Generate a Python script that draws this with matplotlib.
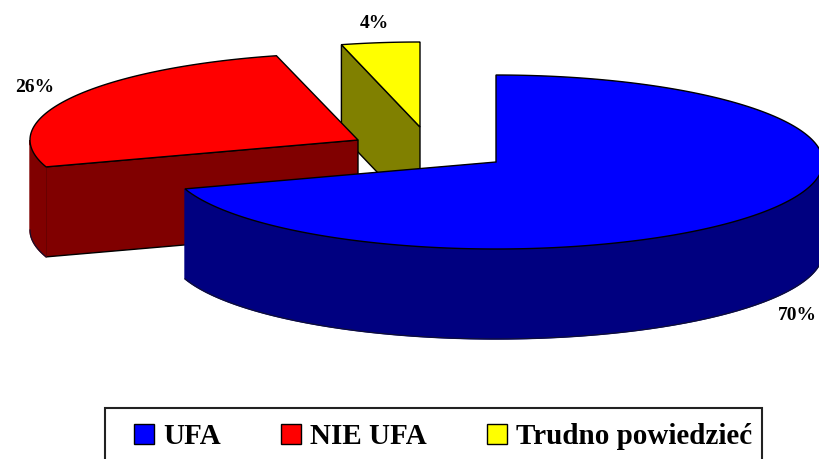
# plot.py - exploded 3D style pie (UFA survey)

import numpy as np
import matplotlib
matplotlib.use("Agg")
import matplotlib.pyplot as plt
from matplotlib.patches import Patch, Polygon, Rectangle

categories = ["UFA", "NIE UFA", "Trudno powiedzieć"]
shares = [70, 26, 4]
share_labels = ["70%", "26%", "4%"]

top_colors = ["#0000ff", "#ff0000", "#ffff00"]
side_colors = ["#000080", "#800000", "#808000"]

# slice centre and ellipse size, in pixels
centers = [(496, 162), (358, 140), (420, 127)]
radii = [(327, 87), (328, 87), (316, 85)]
depth = 90
label_pos = [(797, 316), (35, 88), (374, 24)]

plt.rcParams["font.family"] = ["Liberation Serif", "DejaVu Serif"]


def arc(center, radius, a0, a1):
    # angles in degrees, clockwise from 12 o'clock
    a = np.radians(np.linspace(a0, a1, 200))
    x = center[0] + radius[0] * np.sin(a)
    y = center[1] - radius[1] * np.cos(a)
    return np.column_stack([x, y])


def extrude(points):
    return np.vstack([points, (points + [0, depth])[::-1]])


def draw_slice(ax, center, radius, a0, a1, top, side):
    c = np.array(center, dtype=float)
    edge = arc(center, radius, a0, a1)
    # cut face at the start angle, seen when it turns to the front
    if 180 < a0 < 360:
        cut = np.vstack([c, edge[0]])
        ax.add_patch(Polygon(extrude(cut), fc=side, ec="black", lw=1))
    # outer rim, only the part below the widest point of the ellipse
    lo, hi = max(a0, 90), min(a1, 270)
    if lo < hi:
        rim = arc(center, radius, lo, hi)
        ax.add_patch(Polygon(extrude(rim), fc=side, ec=side, lw=1))
        ax.plot(*(rim + [0, depth]).T, color="#101030", lw=0.8)
    ax.add_patch(Polygon(np.vstack([c, edge]), fc=top, ec="black", lw=1))


fig = plt.figure(figsize=(8.19, 4.59), dpi=100)
ax = fig.add_axes([0, 0, 1, 1])
ax.set_xlim(0, 819)
ax.set_ylim(459, 0)
ax.axis("off")

ends = np.cumsum(shares) / np.sum(shares) * 360
starts = np.concatenate([[0], ends[:-1]])

# back slices first, blue goes on top
for i in [2, 1, 0]:
    draw_slice(ax, centers[i], radii[i], starts[i], ends[i], top_colors[i], side_colors[i])
    ax.text(*label_pos[i], share_labels[i], fontsize=14, fontweight="bold",
            ha="center", va="center", color="black")

# legend frame runs off the bottom of the picture
ax.add_patch(Rectangle((105, 408), 657, 60, fc="white", ec="#222222", lw=1.5))
handles = [Patch(fc=c, ec="black", lw=1) for c in top_colors]
ax.legend(handles, categories, loc="center left", bbox_to_anchor=(134 / 819, 1 - 437 / 459),
          ncol=3, frameon=False, prop={"size": 21, "weight": "bold"},
          handlelength=0.68, handleheight=0.68, handletextpad=0.33, columnspacing=2.05,
          borderpad=0, borderaxespad=0)

fig.savefig("out.png", dpi=100)
plt.close(fig)
